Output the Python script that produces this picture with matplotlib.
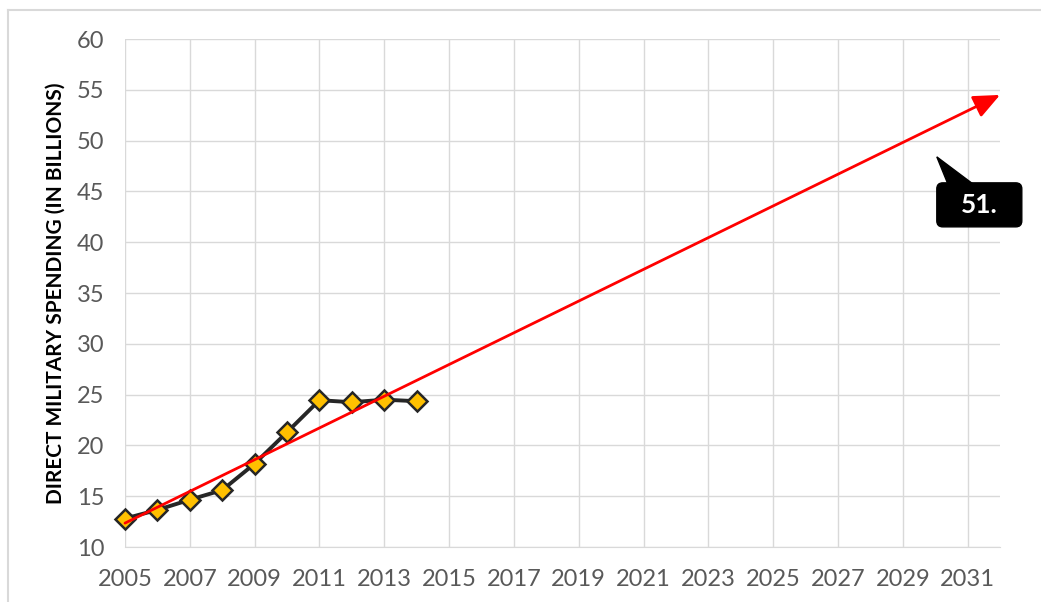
import numpy as np
import matplotlib
matplotlib.use("Agg")
import matplotlib.pyplot as plt
import matplotlib.transforms as mtransforms
from matplotlib.patches import FancyBboxPatch, Polygon, FancyArrowPatch

years = [2005, 2006, 2007, 2008, 2009, 2010, 2011, 2012, 2013, 2014]
spending = [12.8, 13.65, 14.65, 15.6, 18.2, 21.3, 24.45, 24.25, 24.5, 24.35]
x_ticks = list(range(2005, 2032, 2))
y_ticks = list(range(10, 61, 5))
trend_end_year = 2032
callout_text = "51."
callout_point = (2030.05, 48.4)

plt.rcParams["font.family"] = ["Lato", "DejaVu Sans"]

fig = plt.figure(figsize=(10.41, 6.02), dpi=100)
ax = fig.add_axes([125 / 1041, 1 - 547 / 602, 875 / 1041, 508 / 602])

grid_color = "#d9d9d9"
ax.set_xlim(2005, 2032)
ax.set_ylim(10, 60)
ax.set_xticks(x_ticks)
ax.set_yticks(y_ticks)
ax.grid(True, color=grid_color, linewidth=1)
ax.set_axisbelow(True)
for side in ["top", "right", "left"]:
    ax.spines[side].set_visible(False)
ax.spines["bottom"].set_color(grid_color)
ax.tick_params(length=0, labelsize=17, labelcolor="#595959")
ax.tick_params(axis="x", pad=16)
ax.tick_params(axis="y", pad=15)

ax.set_ylabel("DIRECT MILITARY SPENDING (IN BILLIONS)", fontsize=15,
              fontweight="bold", color="black", labelpad=8)

# linear trend line (Excel-style) with arrow head
slope, intercept = np.polyfit(years, spending, 1)
x0, x1 = years[0], trend_end_year
arrow = FancyArrowPatch((x0, slope * x0 + intercept), (x1, slope * x1 + intercept),
                        arrowstyle="-|>,head_length=0.8,head_width=0.35",
                        mutation_scale=20, color="#ff0000", linewidth=2,
                        shrinkA=0, shrinkB=0, clip_on=False, zorder=4)
ax.add_patch(arrow)

ax.plot(years, spending, color="#262626", linewidth=2.8, marker="D",
        markersize=10, markerfacecolor="#ffc000", markeredgecolor="#262626",
        markeredgewidth=1.8, zorder=3, clip_on=False)

# callout box, sized in pixels relative to the point it refers to
px = mtransforms.Affine2D().scale(fig.dpi / 100) + \
    mtransforms.Affine2D().translate(*ax.transData.transform(callout_point))
box = FancyBboxPatch((0, -70), 85, 44, boxstyle="round,pad=0,rounding_size=6",
                     facecolor="black", edgecolor="black", transform=px,
                     clip_on=False, zorder=5)
ax.add_patch(box)
ax.add_patch(Polygon([(0, 0), (11, -27), (36, -27)], closed=True,
                     facecolor="black", edgecolor="black", transform=px,
                     clip_on=False, zorder=5))
ax.text(42, -48, callout_text, transform=px, color="white", fontsize=19,
        fontweight="bold", ha="center", va="center", zorder=6)

# light chart frame
fig.add_artist(plt.Line2D([8 / 1041, 8 / 1041], [0, 1 - 10 / 602],
                          transform=fig.transFigure, color=grid_color, linewidth=1.5))
fig.add_artist(plt.Line2D([8 / 1041, 1], [1 - 10 / 602, 1 - 10 / 602],
                          transform=fig.transFigure, color=grid_color, linewidth=1.5))

fig.savefig("out.png", dpi=100)
